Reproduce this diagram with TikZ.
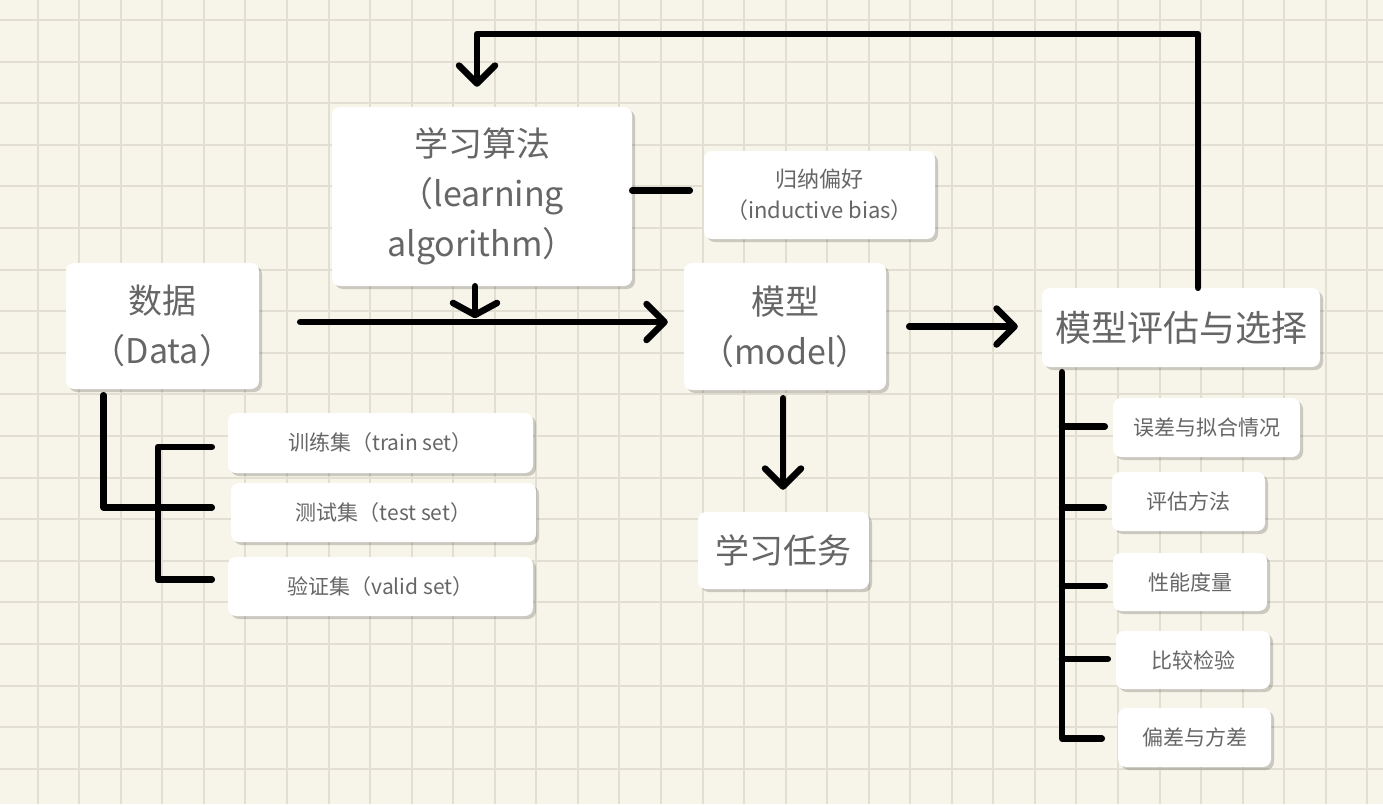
\documentclass[tikz,border=0pt]{standalone}
\usepackage{fontspec}
\setmainfont{Noto Sans CJK SC}
\usetikzlibrary{positioning,arrows.meta,shadows,calc}
\definecolor{papercolor}{RGB}{247,245,234}
\definecolor{gridcolor}{RGB}{226,223,210}
\definecolor{textcolor}{RGB}{102,102,102}

\begin{document}
\begin{tikzpicture}[x=1pt, y=-1pt,
		% Box styles
		box/.style={rectangle, rounded corners=8pt, fill=white, inner sep=0pt, align=center,
			text=textcolor, drop shadow={shadow xshift=3pt, shadow yshift=-3pt, fill=black, opacity=0.18}},
		bigbox/.style={box, font=\fontsize{34}{50}\selectfont},
		smallbox/.style={box, font=\fontsize{21}{31}\selectfont},
		% Connector styles
		link/.style={line width=6.5pt, line cap=round, line join=round},
		arrow/.style={link, -{Straight Barb[length=18pt, width=36pt, round]}},
		flatarrow/.style={link, -{Straight Barb[length=12pt, width=44pt, round]}},
		gridline/.style={draw=gridcolor, line width=2pt}
		]
		
		% Paper and grid
		\fill[papercolor] (0,0) rectangle (1383,804);
		\useasboundingbox (0,0) rectangle (1383,804);
		\foreach \i in {0,...,32}
		\draw[gridline] ({37.7+41.55*\i},0) -- ({37.7+41.55*\i},804);
		\foreach \j in {0,...,18}
		\draw[gridline] (0,{20+41.6*\j}) -- (1383,{20+41.6*\j});
		
		% Main nodes
		\node[bigbox, minimum width=300pt, minimum height=179pt] (algo) at (482,196.5) {学习算法\\（learning\\algorithm）};
		\node[box, font=\fontsize{22}{31}\selectfont, minimum width=231pt, minimum height=88pt] (bias) at (819.5,195) {归纳偏好\\（inductive bias）};
		\node[bigbox, minimum width=193pt, minimum height=126pt] (data) at (162.5,326) {数据\\（Data）};
		\node[bigbox, minimum width=202pt, minimum height=127pt] (model) at (785,326.5) {模型\\（model）};
		\node[bigbox, minimum width=171pt, minimum height=77pt] (task) at (783.5,550.5) {学习任务};
		\node[box, font=\fontsize{36}{50}\selectfont, minimum width=278pt, minimum height=79pt] (eval) at (1181,327.5) {模型评估与选择};
		
		% Data sets
		\node[smallbox, minimum width=305pt, minimum height=60pt] (train) at (380.5,443) {训练集（train set）};
		\node[smallbox, minimum width=305pt, minimum height=59pt] (test) at (383.5,512.5) {测试集（test set）};
		\node[smallbox, minimum width=305pt, minimum height=59pt] (valid) at (380.5,586.5) {验证集（valid set）};
		
		% Evaluation topics
		\node[smallbox, minimum width=187pt, minimum height=59pt] (err) at (1206.5,427.5) {误差与拟合情况};
		\node[smallbox, minimum width=153pt, minimum height=59pt] (meth) at (1188.5,501.5) {评估方法};
		\node[smallbox, minimum width=154pt, minimum height=58pt] (perf) at (1190,582) {性能度量};
		\node[smallbox, minimum width=154pt, minimum height=58pt] (comp) at (1193,660) {比较检验};
		\node[smallbox, minimum width=153pt, minimum height=59pt] (bv) at (1194.5,737.5) {偏差与方差};
		
		% Main flow
		\draw[arrow, shorten <=41pt, shorten >=16pt] ([yshift=4pt]data.east) -- ([yshift=4pt]data.east -| model.west);
		\draw[flatarrow] ([xshift=-7pt]algo.south) -- ++(0,32);
		\draw[link, shorten >=14pt] ([yshift=6pt]algo.east) -- ([yshift=6pt]algo.east -| bias.west);
		\draw[arrow, shorten <=23pt, shorten >=24pt] (model.east) -- (model.east -| eval.west);
		\draw[arrow, shorten <=8pt, shorten >=22pt] ([xshift=-2pt]model.south) -- ([xshift=-2pt]model.south |- task.north);
		
		% Feedback loop
		\coordinate (loop) at (1198,34);
		\draw[arrow, shorten >=20pt] ([xshift=17pt]eval.north) -- (loop) -| ([xshift=-5pt]algo.north);
		
		% Data split
		\draw[link] ([xshift=-59pt, yshift=-6pt]data.south) |- ([xshift=-19pt, yshift=5pt]test.west);
		\draw[link] ([xshift=-16pt, yshift=-4pt]train.west) -- ++(-54,0) |- ([xshift=-16pt, yshift=7pt]valid.west);
		
		% Evaluation tree
		\coordinate (spine) at ([xshift=-119pt, yshift=-5pt]eval.south);
		\draw[link] (spine) |- ([xshift=-16pt, yshift=-1pt]bv.west);
		\foreach \n/\dy in {err/1, meth/-6, perf/-4, comp/1}
		\draw[link] ([yshift=\dy pt]\n.west -| spine) -- ([xshift=-8pt, yshift=\dy pt]\n.west);
		
	\end{tikzpicture}
\end{document}
